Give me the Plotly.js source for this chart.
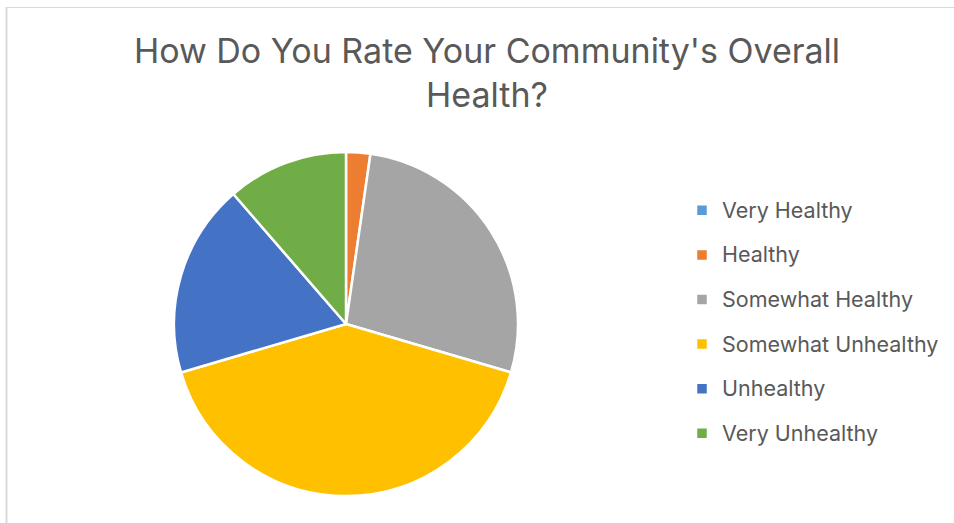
<!DOCTYPE html>
<html>
<head>
<meta charset="utf-8">
<script src="https://cdn.plot.ly/plotly-3.0.1.min.js"></script>
<style>
  html, body { margin: 0; padding: 0; background: #ffffff; }
  #chart { width: 954px; height: 523px; }
</style>
</head>
<body>
<div id="chart"></div>
<script>
// Survey responses: community health rating
const categories = ["Very Healthy", "Healthy", "Somewhat Healthy", "Somewhat Unhealthy", "Unhealthy", "Very Unhealthy"];
const responses = [0, 1, 12, 18, 8, 5];
const sliceColors = ["#5b9bd5", "#ed7d31", "#a5a5a5", "#ffc000", "#4472c4", "#70ad47"];
const chartTitle = "How Do You Rate Your Community's Overall<br>Health?";

const W = 954, H = 523;
const textColor = "#595959";
const fontFamily = "Inter, 'Open Sans', sans-serif";

// pie geometry in pixels
const cx = 346, cy = 324, r = 172;

// legend rows are spaced by a large legend font; the visible label text is smaller
const legendLabel = c => '<span style="font-size:21.5px;baseline-shift:5px">' + c + '</span>';

const trace = {
  type: "pie",
  labels: categories.map(legendLabel),
  values: responses,
  marker: { colors: sliceColors, line: { color: "#ffffff", width: 2.5 } },
  sort: false,
  direction: "clockwise",
  rotation: 0,
  textinfo: "none",
  hoverinfo: "label+value+percent",
  domain: {
    x: [(cx - r) / W, (cx + r) / W],
    y: [1 - (cy + r) / H, 1 - (cy - r) / H]
  }
};

const layout = {
  width: W,
  height: H,
  margin: { l: 0, r: 0, t: 0, b: 0 },
  paper_bgcolor: "#ffffff",
  font: { family: fontFamily, color: textColor },
  title: {
    text: chartTitle,
    font: { family: fontFamily, size: 34, color: textColor },
    x: 487 / W,
    xanchor: "center",
    xref: "paper",
    y: 1 - 63 / H,
    yref: "container",
    yanchor: "top"
  },
  showlegend: true,
  legend: {
    x: 682 / W,
    xanchor: "left",
    y: 1 - 183 / H,
    yanchor: "top",
    font: { family: fontFamily, size: 32, color: textColor },
    bgcolor: "rgba(0,0,0,0)",
    traceorder: "normal"
  },
  shapes: [
    { type: "line", xref: "paper", yref: "paper", x0: 6 / W, x1: 1, y0: 1 - 7.5 / H, y1: 1 - 7.5 / H,
      line: { color: "#d9d9d9", width: 1 } },
    { type: "line", xref: "paper", yref: "paper", x0: 6.5 / W, x1: 6.5 / W, y0: 0, y1: 1 - 7 / H,
      line: { color: "#d9d9d9", width: 2 } }
  ]
};

Plotly.newPlot("chart", [trace], layout, { displayModeBar: false, staticPlot: true });
</script>
</body>
</html>
